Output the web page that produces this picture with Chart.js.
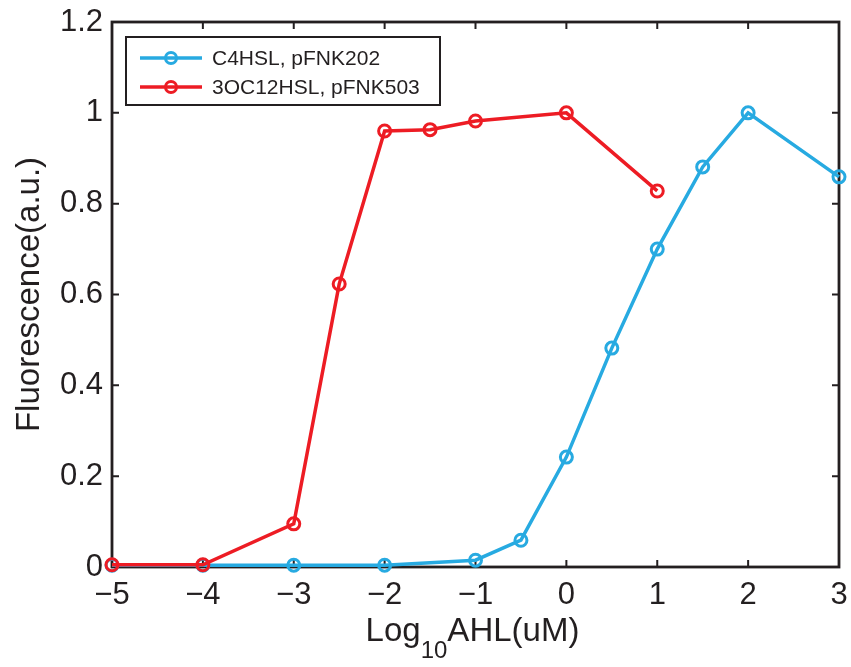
<!DOCTYPE html>
<html>
<head>
<meta charset="utf-8">
<script src="https://cdn.jsdelivr.net/npm/chart.js@4/dist/chart.umd.min.js"></script>
<style>
html, body { margin: 0; padding: 0; background: #fff; }
#wrap { width: 851px; height: 667px; }
</style>
</head>
<body>
<div id="wrap"><canvas id="chart" width="851" height="667"></canvas></div>
<script>
// data
const c4Name = 'C4HSL, pFNK202';
const c4X = [-5, -4, -3, -2, -1, -0.5, 0, 0.5, 1, 1.5, 2, 3];
const c4Y = [0.004, 0.004, 0.004, 0.004, 0.015, 0.059, 0.242, 0.482, 0.70, 0.881, 1.0, 0.859];

const oc12Name = '3OC12HSL, pFNK503';
const oc12X = [-5, -4, -3, -2.5, -2, -1.5, -1, 0, 1];
const oc12Y = [0.005, 0.005, 0.095, 0.623, 0.96, 0.963, 0.982, 1.0, 0.828];

const xTicks = [-5, -4, -3, -2, -1, 0, 1, 2, 3];
const yTicks = [0, 0.2, 0.4, 0.6, 0.8, 1, 1.2];

const FONT = '"Liberation Sans", Arial, Helvetica, sans-serif';
const INK = '#231f20';
const BLUE = '#27aae1';
const RED = '#ed1c24';

function toPoints(xs, ys) {
    return xs.map((x, i) => ({ x: x, y: ys[i] }));
}

function minus(v) {
    return v < 0 ? '\u2212' + Math.abs(v) : String(v);
}

// box and inward ticks on all four sides, drawn under the lines
const frame = {
    id: 'frame',
    beforeDatasetsDraw(chart) {
        const ctx = chart.ctx;
        const a = chart.chartArea;
        const sx = chart.scales.x, sy = chart.scales.y;
        const len = 7;
        ctx.save();
        ctx.strokeStyle = INK;
        ctx.lineWidth = 2.8;
        ctx.strokeRect(a.left, a.top, a.right - a.left, a.bottom - a.top);
        ctx.lineWidth = 2;
        ctx.beginPath();
        xTicks.forEach(v => {
            const px = sx.getPixelForValue(v);
            ctx.moveTo(px, a.bottom); ctx.lineTo(px, a.bottom - len);
            ctx.moveTo(px, a.top); ctx.lineTo(px, a.top + len);
        });
        yTicks.forEach(v => {
            const py = sy.getPixelForValue(v);
            ctx.moveTo(a.left, py); ctx.lineTo(a.left + len, py);
            ctx.moveTo(a.right, py); ctx.lineTo(a.right - len, py);
        });
        ctx.stroke();
        ctx.restore();
    }
};

// boxed legend in the top left corner + x title with subscript
const extras = {
    id: 'extras',
    afterDraw(chart) {
        const ctx = chart.ctx;
        const a = chart.chartArea;
        ctx.save();

        // legend
        const bx = 126, by = 37, bw = 314, bh = 68;
        ctx.fillStyle = '#fff';
        ctx.fillRect(bx, by, bw, bh);
        ctx.strokeStyle = INK;
        ctx.lineWidth = 2;
        ctx.strokeRect(bx, by, bw, bh);
        [0, 1].forEach(i => {
            const ds = chart.data.datasets[i];
            const y = by + 21 + i * 29;
            ctx.strokeStyle = ds.borderColor;
            ctx.lineWidth = 3.5;
            ctx.beginPath();
            ctx.moveTo(140, y); ctx.lineTo(202, y);
            ctx.stroke();
            ctx.lineWidth = 3;
            ctx.beginPath();
            ctx.arc(171, y, 5.5, 0, Math.PI * 2);
            ctx.stroke();
            ctx.fillStyle = INK;
            ctx.font = '21px ' + FONT;
            ctx.textBaseline = 'middle';
            ctx.textAlign = 'left';
            ctx.fillText(ds.label, 212, y + 1);
        });

        // x axis title: Log10AHL(uM)
        const big = '33px ' + FONT, small = '24px ' + FONT;
        ctx.font = big;
        const w1 = ctx.measureText('Log').width;
        const w3 = ctx.measureText('AHL(uM)').width;
        ctx.font = small;
        const w2 = ctx.measureText('10').width;
        let x = (a.left + a.right) / 2 - (w1 + w2 + w3) / 2 - 3;
        const base = 641;
        ctx.fillStyle = INK;
        ctx.textBaseline = 'alphabetic';
        ctx.textAlign = 'left';
        ctx.font = big;
        ctx.fillText('Log', x, base);
        x += w1;
        ctx.font = small;
        ctx.fillText('10', x, base + 17);
        x += w2;
        ctx.font = big;
        ctx.fillText('AHL(uM)', x, base);
        ctx.restore();
    }
};

new Chart(document.getElementById('chart'), {
    type: 'line',
    data: {
        datasets: [
            {
                label: c4Name,
                data: toPoints(c4X, c4Y),
                borderColor: BLUE,
                backgroundColor: 'rgba(0,0,0,0)',
                borderWidth: 3.5,
                pointRadius: 6,
                pointBorderWidth: 3,
                pointBackgroundColor: 'rgba(0,0,0,0)',
                pointBorderColor: BLUE,
                order: 1,
                clip: 12
            },
            {
                label: oc12Name,
                data: toPoints(oc12X, oc12Y),
                borderColor: RED,
                backgroundColor: 'rgba(0,0,0,0)',
                borderWidth: 3.5,
                pointRadius: 6,
                pointBorderWidth: 3,
                pointBackgroundColor: 'rgba(0,0,0,0)',
                pointBorderColor: RED,
                order: 0,
                clip: 12
            }
        ]
    },
    options: {
        responsive: false,
        animation: false,
        layout: { padding: { top: 22, right: 12, left: 0, bottom: 0 } },
        plugins: {
            legend: { display: false },
            tooltip: { enabled: false }
        },
        scales: {
            x: {
                type: 'linear',
                min: -5,
                max: 3,
                afterBuildTicks: s => { s.ticks = xTicks.map(v => ({ value: v })); },
                afterFit: s => { s.height = 100; s.paddingLeft = 0; s.paddingRight = 0; },
                grid: { display: false, drawTicks: false },
                border: { display: false },
                ticks: {
                    padding: 10,
                    color: INK,
                    font: { family: FONT, size: 31 },
                    maxRotation: 0,
                    callback: v => minus(v)
                }
            },
            y: {
                min: 0,
                max: 1.2,
                afterBuildTicks: s => { s.ticks = yTicks.map(v => ({ value: v })); },
                afterFit: s => { s.width = 112; s.paddingTop = 0; s.paddingBottom = 0; },
                grid: { display: false, drawTicks: false },
                border: { display: false },
                ticks: {
                    padding: 9,
                    color: INK,
                    font: { family: FONT, size: 31 },
                    callback: v => String(Math.round(v * 10) / 10)
                },
                title: {
                    display: true,
                    text: 'Fluorescence(a.u.)',
                    color: INK,
                    font: { family: FONT, size: 33 },
                    padding: { top: 10, bottom: 0 }
                }
            }
        }
    },
    plugins: [frame, extras]
});
</script>
</body>
</html>
